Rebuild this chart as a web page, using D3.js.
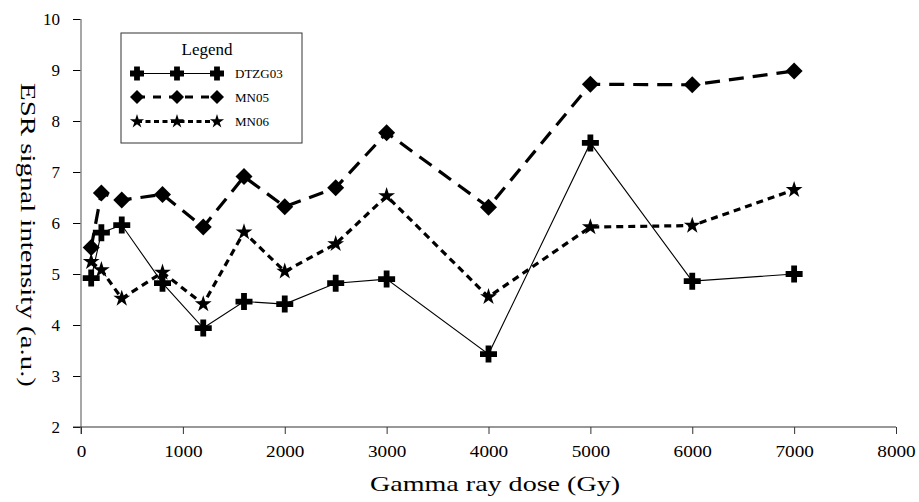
<!DOCTYPE html>
<html><head><meta charset="utf-8">
<script src="https://cdn.jsdelivr.net/npm/d3@7"></script>
<style>
html,body{margin:0;padding:0;background:#fff;}
svg{display:block;}
svg text{font-family:"Times New Roman","Liberation Serif",Tinos,Times,serif !important;fill:#000;font-weight:normal;}
</style></head>
<body>
<svg id="chart" width="919" height="502"></svg>
<script>
const doses = [100, 200, 400, 800, 1200, 1600, 2000, 2500, 3000, 4000, 5000, 6000, 7000];
const dtzg03 = [4.92, 5.81, 5.96, 4.82, 3.94, 4.46, 4.41, 4.82, 4.90, 3.43, 7.57, 4.86, 5.00];
const mn05   = [5.52, 6.59, 6.45, 6.56, 5.92, 6.91, 6.32, 6.69, 7.77, 6.31, 8.72, 8.71, 8.98];
const mn06   = [5.24, 5.08, 4.52, 5.03, 4.41, 5.82, 5.05, 5.59, 6.53, 4.55, 5.92, 5.95, 6.65];
const seriesNames = ["DTZG03", "MN05", "MN06"];
const xTicks = [0, 1000, 2000, 3000, 4000, 5000, 6000, 7000, 8000];
const yTicks = [2, 3, 4, 5, 6, 7, 8, 9, 10];
const xTitle = "Gamma ray dose (Gy)";
const yTitle = "ESR signal intensity (a.u.)";

const svg = d3.select("#chart");
const x = d3.scaleLinear().domain([0, 8000]).range([81, 896]);
const y = d3.scaleLinear().domain([2, 10]).range([427, 19]);

function plusPath(s){ const a=s, t=2.9; return `M${-t},${-a}H${t}V${-t}H${a}V${t}H${t}V${a}H${-t}V${t}H${-a}V${-t}H${-t}Z`; }
function diamondPath(s){ return `M0,${-s}L${s},0L0,${s}L${-s},0Z`; }
const starPath = d3.symbol().type(d3.symbolStar).size(88)();
const styles = [
  {data: dtzg03, dash: null, width: 1.1, marker: plusPath(8.5)},
  {data: mn05, dash: "15,9", width: 3.2, marker: diamondPath(8.5)},
  {data: mn06, dash: "7,5", width: 3.2, marker: starPath}
];

// axes
const yAxisG = svg.append("g").attr("transform", "translate(81,0)")
  .call(d3.axisLeft(y).tickValues(yTicks).tickSize(8).tickFormat(d3.format("d")));
yAxisG.attr("font-family", null);
yAxisG.select(".domain").remove();
yAxisG.selectAll("line").attr("stroke", "#000");
yAxisG.selectAll("text").attr("x", -21).style("font-size", "17px");
svg.append("line").attr("x1", 81).attr("x2", 81).attr("y1", 19).attr("y2", 434).attr("stroke", "#8a8a8a").attr("stroke-width", 1.5);

const xAxisG = svg.append("g").attr("transform", "translate(0,427)")
  .call(d3.axisBottom(x).tickValues(xTicks).tickSize(7).tickFormat(d3.format("d")));
xAxisG.attr("font-family", null);
xAxisG.select(".domain").remove();
xAxisG.selectAll("line").attr("stroke", "#333");
xAxisG.selectAll("text").attr("y", 18).style("font-size", "17px")
  .attr("textLength", d => String(d).length * 9.6).attr("lengthAdjust", "spacingAndGlyphs");
svg.append("line").attr("x1", 73).attr("x2", 896).attr("y1", 427).attr("y2", 427).attr("stroke", "#333").attr("stroke-width", 1.2);

// titles
svg.append("text").attr("x", 495).attr("y", 491).attr("text-anchor", "middle")
  .style("font-size", "21px").attr("textLength", 250).attr("lengthAdjust", "spacingAndGlyphs").text(xTitle);
svg.append("text").attr("transform", "translate(21,235) rotate(90)").attr("text-anchor", "middle")
  .style("font-size", "21px").attr("textLength", 304).attr("lengthAdjust", "spacingAndGlyphs").text(yTitle);

// series
styles.forEach(st => {
  const pts = doses.map((d, i) => [x(d), y(st.data[i])]);
  svg.append("path").attr("d", d3.line()(pts)).attr("fill", "none").attr("stroke", "#000")
    .attr("stroke-width", st.width).attr("stroke-dasharray", st.dash);
  svg.append("g").selectAll("path").data(pts).join("path")
    .attr("transform", p => `translate(${p[0]},${p[1]})`).attr("d", st.marker).attr("fill", "#000");
});

// legend
const lg = svg.append("g");
lg.append("rect").attr("x", 121).attr("y", 33).attr("width", 181).attr("height", 110)
  .attr("fill", "#fff").attr("stroke", "#333").attr("stroke-width", 1);
lg.append("text").attr("x", 207).attr("y", 55).attr("text-anchor", "middle").style("font-size", "17px").text("Legend");
const rowY = [73.5, 97, 121.5];
styles.forEach((st, i) => {
  lg.append("line").attr("x1", 137).attr("x2", 217).attr("y1", rowY[i]).attr("y2", rowY[i])
    .attr("stroke", "#000").attr("stroke-width", i === 0 ? 1.1 : 2.8).attr("stroke-dasharray", i === 0 ? null : (i === 1 ? "8,8" : "5,3.5"));
  [137, 177, 217].forEach(mx => lg.append("path").attr("transform", `translate(${mx},${rowY[i]})`)
    .attr("d", i === 0 ? plusPath(7) : (i === 1 ? diamondPath(7) : d3.symbol().type(d3.symbolStar).size(62)())).attr("fill", "#000"));
  lg.append("text").attr("x", 235).attr("y", rowY[i] + 4.5).style("font-size", "13px").text(seriesNames[i]);
});
</script>
</body></html>
